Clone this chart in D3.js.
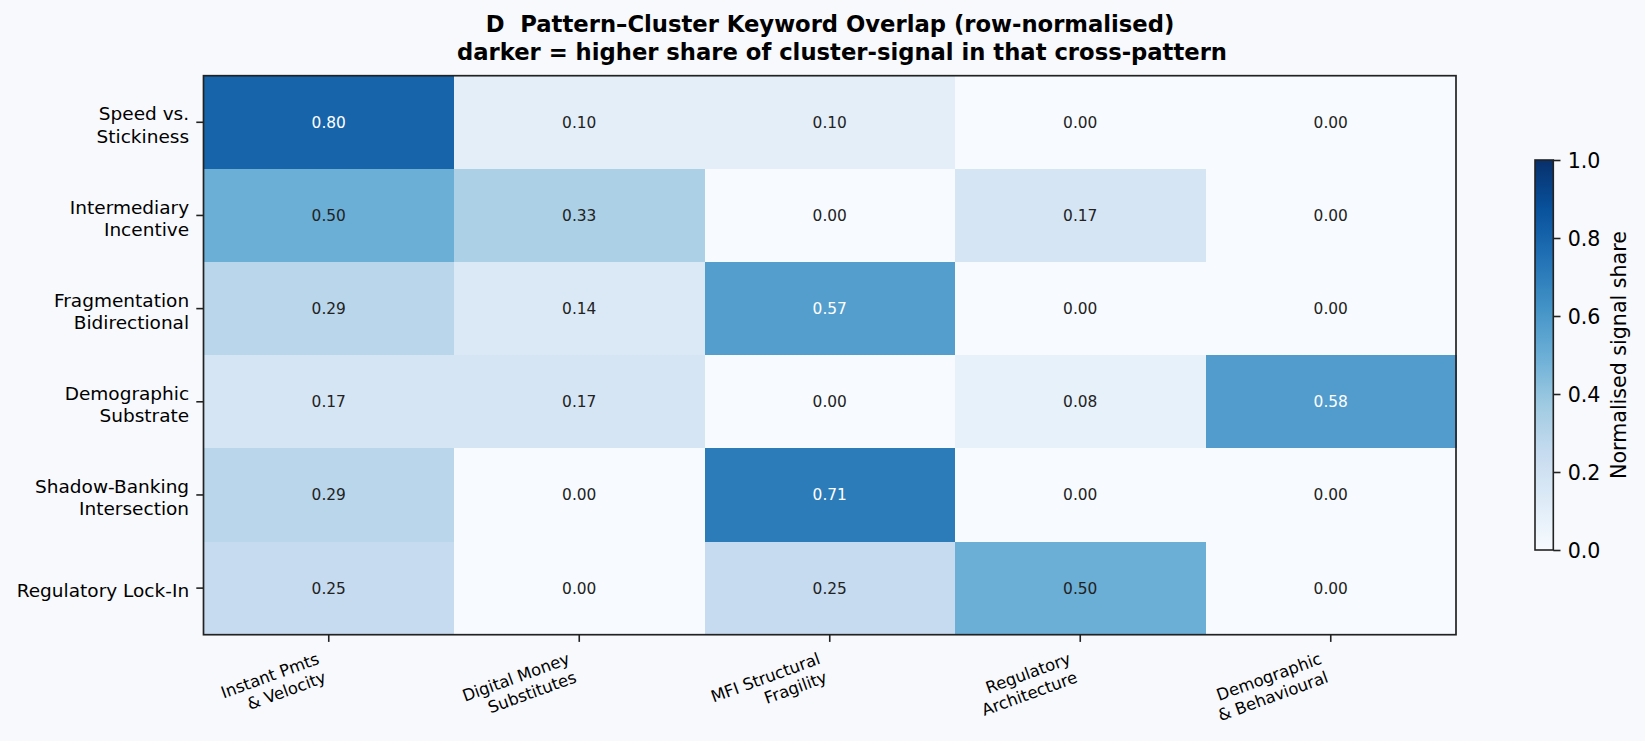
<!DOCTYPE html>
<html><head><meta charset="utf-8">
<script src="https://cdn.jsdelivr.net/npm/d3@7"></script>
<style>
body{margin:0;background:#f7f9fc;}
svg{display:block;}
svg text{font-family:"DejaVu Sans";white-space:pre;}
</style>
</head><body>
<svg id="c" width="1645" height="741"></svg>
<script>
const titleLines = ["D  Pattern\u2013Cluster Keyword Overlap (row-normalised)",
                    "darker = higher share of cluster-signal in that cross-pattern"];
const rows = ["Speed vs.\nStickiness", "Intermediary\nIncentive", "Fragmentation\nBidirectional",
              "Demographic\nSubstrate", "Shadow-Banking\nIntersection", "Regulatory Lock-In"];
const cols = ["Instant Pmts\n& Velocity", "Digital Money\nSubstitutes", "MFI Structural\nFragility",
              "Regulatory\nArchitecture", "Demographic\n& Behavioural"];
const values = [
  [0.80, 0.10, 0.10, 0.00, 0.00],
  [0.50, 0.33, 0.00, 0.17, 0.00],
  [0.29, 0.14, 0.57, 0.00, 0.00],
  [0.17, 0.17, 0.00, 0.08, 0.58],
  [0.29, 0.00, 0.71, 0.00, 0.00],
  [0.25, 0.00, 0.25, 0.50, 0.00]
];
const cbTicks = [0.0, 0.2, 0.4, 0.6, 0.8, 1.0];
const cbLabel = "Normalised signal share";
const bluesStops = ["#f7fbff","#deebf7","#c6dbef","#9ecae1","#6baed6","#4292c6","#2171b5","#08519c","#08306b"];

const FONT = "DejaVu Sans";
const svg = d3.select("#c");
const ink = "#222222";
const plot = {left: 203.5, right: 1456, top: 75.7, bottom: 634.7};
const color = d3.scaleLinear()
  .domain(bluesStops.map((_, i) => i / (bluesStops.length - 1)))
  .range(bluesStops).interpolate(d3.interpolateRgb).clamp(true);

const x = d3.scaleBand().domain(d3.range(cols.length)).range([plot.left, plot.right]).padding(0);
const y = d3.scaleBand().domain(d3.range(rows.length)).range([plot.top, plot.bottom]).padding(0);

// title
const titleX = [830, 842];
svg.append("text").attr("y", 32.5).attr("text-anchor", "middle")
  .attr("font-family", FONT).attr("font-size", 22.7).attr("font-weight", "bold").attr("fill", "#000")
  .attr("xml:space", "preserve")
  .selectAll("tspan").data(titleLines).join("tspan")
  .attr("x", (d, i) => titleX[i]).attr("y", (d, i) => 32.3 + i * 27.6).text(d => d);

// cells
const cells = [];
values.forEach((r, i) => r.forEach((v, j) => cells.push({i, j, v})));
svg.append("g").selectAll("rect").data(cells).join("rect")
  .attr("x", d => x(d.j)).attr("y", d => y(d.i))
  .attr("width", x.bandwidth() + 0.5).attr("height", y.bandwidth() + 0.5)
  .attr("fill", d => color(d.v)).attr("shape-rendering", "crispEdges");

svg.append("g").selectAll("text").data(cells).join("text")
  .attr("x", d => x(d.j) + x.bandwidth() / 2)
  .attr("y", d => y(d.i) + y.bandwidth() / 2 + 5.4)
  .attr("text-anchor", "middle").attr("font-family", FONT).attr("font-size", 15.4)
  .attr("fill", d => d.v > 0.55 ? "#ffffff" : ink)
  .text(d => d.v.toFixed(2));

// y axis
const yAxis = svg.append("g").attr("transform", `translate(${plot.left},0)`)
  .call(d3.axisLeft(y).tickSize(7.2).tickPadding(7.2).tickFormat(""));
yAxis.attr("font-family", FONT);
yAxis.select(".domain").remove();
yAxis.selectAll(".tick line").attr("stroke", ink).attr("stroke-width", 1.6);
yAxis.selectAll(".tick").each(function(d) {
  const lines = rows[d].split("\n");
  const t = d3.select(this).select("text").text(null)
    .attr("font-family", FONT).attr("font-size", 18.5).attr("fill", "#000").attr("text-anchor", "end")
    .attr("dy", null).attr("x", -14.4);
  const base = lines.length === 1 ? 9 : -1.8;
  lines.forEach((ln, k) => t.append("tspan").attr("x", -14.4).attr("y", base + k * 22.2).text(ln));
});

// x axis
const xAxis = svg.append("g").attr("transform", `translate(0,${plot.bottom})`)
  .call(d3.axisBottom(x).tickSize(7.2).tickFormat(""));
xAxis.select(".domain").remove();
xAxis.selectAll(".tick line").attr("stroke", ink).attr("stroke-width", 1.6);
xAxis.selectAll(".tick text").remove();
const xl = svg.append("g");
cols.forEach((c, j) => {
  const cx = x(j) + x.bandwidth() / 2;
  const top = plot.bottom + 14.4;
  const g = xl.append("g");
  const t = g.append("text").attr("font-family", FONT).attr("font-size", 16.4).attr("fill", "#000")
    .attr("text-anchor", "end").attr("transform", "rotate(-20)");
  c.split("\n").forEach((ln, k) => t.append("tspan").attr("x", 0).attr("y", k * 19.7).text(ln));
  const svgR = svg.node().getBoundingClientRect();
  const b = t.node().getBoundingClientRect();
  const dx = cx - (b.right - svgR.left);
  const dy = top - (b.top - svgR.top);
  g.attr("transform", `translate(${dx},${dy})`);
});

// frame
svg.append("rect").attr("x", plot.left).attr("y", plot.top)
  .attr("width", plot.right - plot.left).attr("height", plot.bottom - plot.top)
  .attr("fill", "none").attr("stroke", ink).attr("stroke-width", 1.7);

// colorbar
const cb = {x: 1535, w: 18.3, top: 160, bottom: 550};
const defs = svg.append("defs");
const grad = defs.append("linearGradient").attr("id", "cbg")
  .attr("x1", 0).attr("y1", 1).attr("x2", 0).attr("y2", 0);
d3.range(0, 1.0001, 0.02).forEach(t => grad.append("stop").attr("offset", t).attr("stop-color", color(t)));
svg.append("rect").attr("x", cb.x).attr("y", cb.top).attr("width", cb.w)
  .attr("height", cb.bottom - cb.top).attr("fill", "url(#cbg)");
const cy = d3.scaleLinear().domain([0, 1]).range([cb.bottom, cb.top]);
const cbAxis = svg.append("g").attr("transform", `translate(${cb.x + cb.w},0)`)
  .call(d3.axisRight(cy).tickValues(cbTicks).tickSize(7.2).tickPadding(7.2).tickFormat(d3.format(".1f")));
cbAxis.attr("font-family", FONT);
cbAxis.select(".domain").remove();
cbAxis.selectAll(".tick line").attr("stroke", ink).attr("stroke-width", 1.6);
cbAxis.selectAll(".tick text").attr("font-size", 20.6).attr("fill", "#000")
  .attr("font-family", FONT).attr("dy", "0.36em");
svg.append("rect").attr("x", cb.x).attr("y", cb.top).attr("width", cb.w)
  .attr("height", cb.bottom - cb.top).attr("fill", "none").attr("stroke", ink).attr("stroke-width", 1.6);
svg.append("text").attr("transform", `translate(1619,${(cb.top + cb.bottom) / 2}) rotate(-90)`)
  .attr("text-anchor", "middle").attr("dy", "0.36em").attr("font-family", FONT).attr("font-size", 20.6).attr("fill", "#000")
  .text(cbLabel);
</script>
</body></html>
